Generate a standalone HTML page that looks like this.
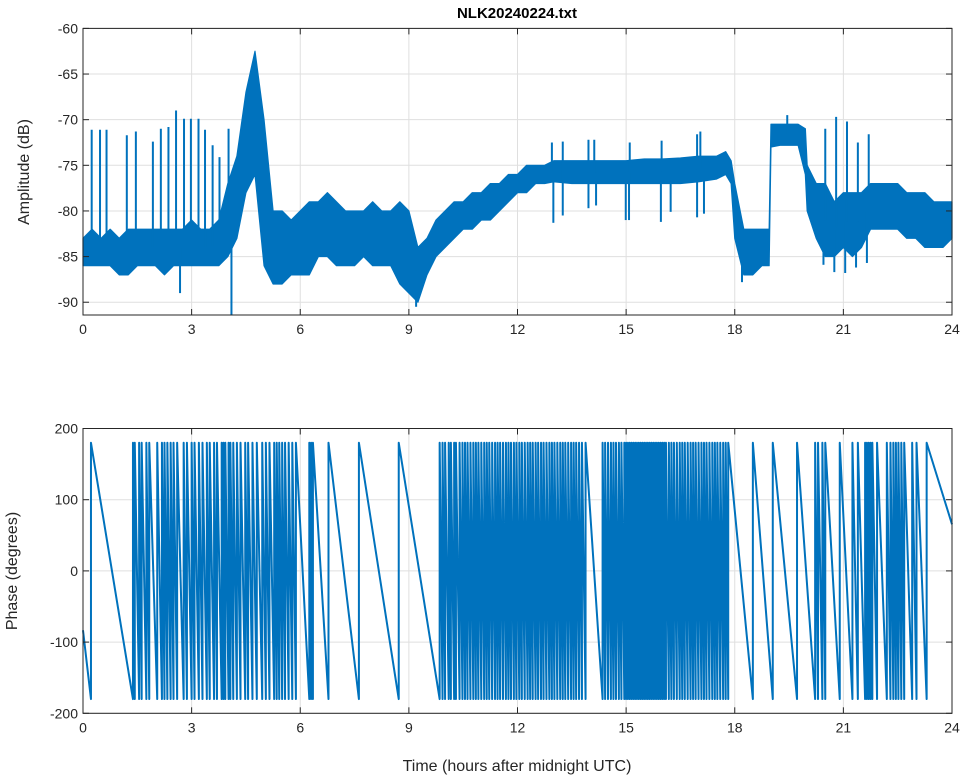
<!DOCTYPE html>
<html><head><meta charset="utf-8"><style>
html,body{margin:0;padding:0;background:#fff;}
svg{display:block;font-family:"Liberation Sans",Arial,sans-serif;}
</style></head><body>
<svg id="chart" width="964" height="778" viewBox="0 0 964 778" xmlns="http://www.w3.org/2000/svg">
<text x="517" y="18" text-anchor="middle" font-size="15" font-weight="bold" fill="#000">NLK20240224.txt</text>
<text transform="translate(29,172) rotate(-90)" text-anchor="middle" font-size="16" fill="#262626">Amplitude (dB)</text>
<text transform="translate(17,571) rotate(-90)" text-anchor="middle" font-size="16" fill="#262626">Phase (degrees)</text>
<text x="517" y="771" text-anchor="middle" font-size="16" fill="#262626">Time (hours after midnight UTC)</text>
<g id="topg"></g>
<g id="botg"></g>
</svg>
<script>
// ---- data ----
const xTicks = [0,3,6,9,12,15,18,21,24];
const ampTicks = [-60,-65,-70,-75,-80,-85,-90];
const phaseTicks = [200,100,0,-100,-200];
const ampTimes = [0,0.25,0.5,0.75,1,1.25,1.5,1.75,2,2.25,2.5,2.75,3,3.25,3.5,3.75,4,4.25,4.5,4.75,5,5.25,5.5,5.75,6,6.25,6.5,6.75,7,7.25,7.5,7.75,8,8.25,8.5,8.75,9,9.25,9.5,9.75,10,10.25,10.5,10.75,11,11.25,11.5,11.75,12,12.25,12.5,12.75,13,13.5,14,14.5,15,15.5,16,16.5,17,17.5,17.75,17.9,18,18.25,18.5,18.75,18.95,19,19.25,19.5,19.75,19.95,20,20.25,20.5,20.75,21,21.25,21.5,21.75,22,22.25,22.5,22.75,23,23.25,23.5,23.75,24];
const ampUpper = [-83,-82,-83,-82,-83,-82,-82,-82,-82,-82,-82,-82,-81,-82,-82,-81,-77,-74,-67,-62.5,-70,-80,-80,-81,-80,-79,-79,-78,-79,-80,-80,-80,-79,-80,-80,-79,-80,-84,-83,-81,-80,-79,-79,-78,-78,-77,-77,-76,-76,-75,-75,-75,-74.5,-74.5,-74.5,-74.5,-74.5,-74.3,-74.3,-74.2,-74,-74,-73.5,-74.5,-77,-82,-82,-82,-82,-70.5,-70.5,-70.5,-70.5,-71,-75,-77,-77,-79,-78,-78,-78,-77,-77,-77,-77,-78,-78,-78,-79,-79,-79];
const ampLower = [-86,-86,-86,-86,-87,-87,-86,-86,-86,-87,-86,-86,-86,-86,-86,-86,-85,-83,-78,-76,-86,-88,-88,-87,-87,-87,-85,-85,-86,-86,-86,-85,-86,-86,-86,-88,-89,-90,-87,-85,-84,-83,-82,-82,-81,-81,-80,-79,-78,-78,-77,-77,-76.8,-77,-77,-77,-77,-77,-77,-77,-76.8,-76.5,-76,-77,-83,-87,-87,-86,-86,-73,-72.8,-72.8,-72.8,-76,-80,-83,-85,-85,-84,-85,-84,-82,-82,-82,-82,-83,-83,-84,-84,-84,-83];
const spikeTimes = [0.24,0.47,0.65,1.21,1.46,1.93,2.15,2.36,2.57,2.79,2.98,3.19,3.37,3.58,3.77,4.02,4.1,2.68,9.2,12.99,13.25,13.96,14.17,14.99,15.08,15.96,16.23,16.96,17.15,12.95,13.25,13.96,14.12,15.1,15.98,16.96,17.05,20.5,20.8,21.1,21.4,21.7,20.45,20.75,21.05,21.35,21.65,18.2,19.45];
const spikeValues = [-71.1,-71.1,-71.1,-71.7,-71.3,-72.4,-71,-70.8,-69,-69.9,-69.9,-69.9,-71.1,-72.8,-74.1,-71,-91.4,-89,-90.5,-81.3,-80.5,-79.7,-79.4,-81,-81,-81.2,-80.1,-80.7,-80.3,-72.5,-72.4,-72.2,-72.2,-72.5,-72.3,-71.6,-71.3,-71,-69.7,-70.2,-72.5,-71.6,-85.9,-86.7,-86.8,-86.2,-85.7,-87.8,-69.5];
const phaseWraps = [-0.6,0.22,1.38,1.43,1.55,1.62,1.75,1.83,2.05,2.18,2.25,2.33,2.42,2.5,2.6,2.78,2.87,3.0,3.08,3.2,3.3,3.42,3.5,3.62,3.7,3.83,3.88,3.93,4.02,4.07,4.15,4.25,4.35,4.48,4.56,4.68,4.8,4.95,5.05,5.15,5.28,5.35,5.42,5.5,5.58,5.68,5.78,5.88,6.25,6.3,6.35,6.78,7.62,8.72,9.85,9.93,10.0,10.1,10.16,10.25,10.3,10.4,10.48,10.55,10.62,10.7,10.78,10.85,10.92,11.0,11.08,11.15,11.22,11.3,11.38,11.45,11.52,11.6,11.68,11.75,11.82,11.9,11.97,12.05,12.12,12.2,12.28,12.35,12.42,12.5,12.57,12.65,12.72,12.8,12.88,12.95,13.02,13.1,13.18,13.25,13.32,13.4,13.48,13.55,13.62,13.7,13.78,13.88,14.35,14.42,14.5,14.58,14.65,14.72,14.8,14.87,14.95,15.0,15.05,15.1,15.15,15.2,15.25,15.3,15.35,15.4,15.45,15.5,15.55,15.6,15.65,15.7,15.75,15.8,15.85,15.9,15.95,16.0,16.05,16.1,16.18,16.25,16.32,16.4,16.48,16.55,16.62,16.7,16.78,16.85,16.92,17.0,17.08,17.15,17.22,17.3,17.38,17.45,17.52,17.6,17.68,17.75,17.82,18.5,19.05,19.72,20.22,20.3,20.42,20.5,20.9,21.25,21.4,21.6,21.65,21.7,21.75,21.8,21.93,22.2,22.3,22.38,22.45,22.52,22.6,22.68,22.9,23.02,23.3,25.5];

// ---- layout ----
const X0=83, X1=952;
const topAx={y0:28.4, y1:315, vmax:-60, vmin:-91.4};
const botAx={y0:428.5, y1:713.3, vmax:200, vmin:-200};
const BLUE="#0072BD";
const NS="http://www.w3.org/2000/svg";
const xs = t => X0 + (t/24)*(X1-X0);
const ysA = v => topAx.y0 + (topAx.vmax - v)/(topAx.vmax-topAx.vmin)*(topAx.y1-topAx.y0);
const ysP = v => botAx.y0 + (botAx.vmax - v)/(botAx.vmax-botAx.vmin)*(botAx.y1-botAx.y0);

function mk(tag, attrs, parent){
  const e=document.createElementNS(NS,tag);
  for(const k in attrs) e.setAttribute(k,attrs[k]);
  parent.appendChild(e); return e;
}

function axes(g, cfg, yTicks, ys, prefix){
  const gr=mk('g',{},g);
  
  
  xTicks.forEach(t=>{ mk('line',{x1:xs(t),x2:xs(t),y1:cfg.y0,y2:cfg.y1,stroke:'#dfdfdf','stroke-width':1},gr); });
  yTicks.forEach(v=>{ mk('line',{x1:X0,x2:X1,y1:ys(v),y2:ys(v),stroke:'#dfdfdf','stroke-width':1},gr); });
}
function frame(g, cfg, yTicks, ys, prefix){
  const fr=mk('rect',{x:X0,y:cfg.y0,width:X1-X0,height:cfg.y1-cfg.y0,fill:'none',stroke:'#262626','stroke-width':1},g);
  
  
  xTicks.forEach(t=>{
    mk('line',{x1:xs(t),x2:xs(t),y1:cfg.y1,y2:cfg.y1-6,stroke:'#262626'},g);
    mk('line',{x1:xs(t),x2:xs(t),y1:cfg.y0,y2:cfg.y0+6,stroke:'#262626'},g);
    const tx=mk('text',{x:xs(t),y:cfg.y1+19,'text-anchor':'middle','font-size':14,fill:'#262626'},g);
    tx.textContent=t;
    
    
  });
  yTicks.forEach(v=>{
    mk('line',{x1:X0,x2:X0+6,y1:ys(v),y2:ys(v),stroke:'#262626'},g);
    mk('line',{x1:X1,x2:X1-6,y1:ys(v),y2:ys(v),stroke:'#262626'},g);
    const tx=mk('text',{x:X0-5,y:ys(v)+5,'text-anchor':'end','font-size':14,fill:'#262626'},g);
    tx.textContent=v;
    
    
  });
}

// amplitude
const gt=document.getElementById('topg');
axes(gt, topAx, ampTicks, ysA, 'amplitude');
let pts=[];
ampTimes.forEach((t,i)=>pts.push(xs(t)+','+ysA(ampUpper[i])));
for(let i=ampTimes.length-1;i>=0;i--) pts.push(xs(ampTimes[i])+','+ysA(ampLower[i]));
const band=mk('polygon',{points:pts.join(' '),fill:BLUE,stroke:BLUE,'stroke-width':1.2,'stroke-linejoin':'round'},gt);


function interp(arr,t){
  for(let i=0;i<ampTimes.length-1;i++){ if(t>=ampTimes[i]&&t<=ampTimes[i+1]){const f=(t-ampTimes[i])/(ampTimes[i+1]-ampTimes[i]);return arr[i]+f*(arr[i+1]-arr[i]);} }
  return arr[arr.length-1];
}
spikeTimes.forEach((t,i)=>{
  const v=spikeValues[i];
  const base=(interp(ampUpper,t)+interp(ampLower,t))/2;
  const s=mk('line',{x1:xs(t),x2:xs(t),y1:ysA(base),y2:ysA(v),stroke:BLUE,'stroke-width':2},gt);
  
  
});
frame(gt, topAx, ampTicks, ysA, 'amplitude');

// phase
const gb=document.getElementById('botg');
axes(gb, botAx, phaseTicks, ysP, 'phase');
let pp=[];
for(let i=0;i<phaseWraps.length-1;i++){
  const a=phaseWraps[i], b=phaseWraps[i+1];
  const ta=Math.max(a,0), tb=Math.min(b,24);
  if(tb<=ta) continue;
  const val=t=>180-360*(t-a)/(b-a);
  pp.push(xs(ta)+','+ysP(val(ta)));
  pp.push(xs(tb)+','+ysP(val(tb)));
}
const pl=mk('polyline',{points:pp.join(' '),fill:'none',stroke:BLUE,'stroke-width':2,'stroke-linejoin':'round'},gb);


frame(gb, botAx, phaseTicks, ysP, 'phase');
</script>
</body></html>
